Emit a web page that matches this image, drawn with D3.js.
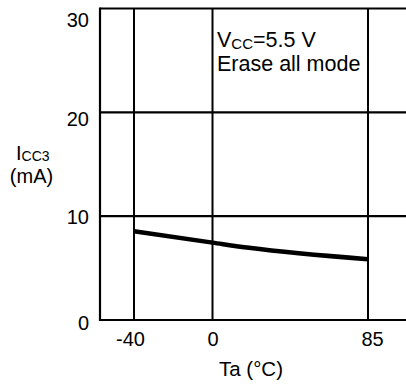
<!DOCTYPE html>
<html>
<head>
<meta charset="utf-8">
<script src="https://cdn.jsdelivr.net/npm/d3@7/dist/d3.min.js"></script>
<style>
  html, body { margin: 0; padding: 0; background: #fff; }
  svg { display: block; }
  text { font-family: "Liberation Sans", Arial, Helvetica, sans-serif; fill: #000; }
</style>
</head>
<body>
<svg id="chart" width="406" height="385"></svg>
<script>
// Supply current in erase-all mode vs ambient temperature
const tempTicks = [-40, 0, 85];
const currentTicks = [0, 10, 20, 30];
const temps = [-40, 0, 20, 85];
const icc3 = [8.55, 7.45, 6.95, 5.85];

const plotLeft = 100, plotTop = 8.5, plotBottom = 320, plotRight = 406;

const svg = d3.select("#chart");

// Temperature axis is not evenly spaced on the original plot, so use a piecewise scale
const x = d3.scaleLinear().domain([-40, 0, 85]).range([134, 212.5, 368]);
const y = d3.scaleLinear().domain([0, 30]).range([plotBottom, plotTop]);

const ink = "#000";
const plain = d => String(d);

// horizontal grid (including top and bottom frame lines)
svg.append("g")
  .selectAll("line")
  .data(currentTicks)
  .join("line")
  .attr("x1", plotLeft).attr("x2", plotRight)
  .attr("y1", d => y(d)).attr("y2", d => y(d))
  .attr("stroke", ink).attr("stroke-width", 2.2);

// left frame
svg.append("line")
  .attr("x1", plotLeft).attr("x2", plotLeft)
  .attr("y1", plotTop - 1.1).attr("y2", plotBottom + 1.1)
  .attr("stroke", ink).attr("stroke-width", 2.2);

// vertical grid at the labelled temperatures
svg.append("g")
  .selectAll("line")
  .data(tempTicks)
  .join("line")
  .attr("x1", d => x(d)).attr("x2", d => x(d))
  .attr("y1", plotTop).attr("y2", plotBottom)
  .attr("stroke", ink).attr("stroke-width", 2);

// y tick labels
const yLabelNudge = {0: 2, 10: 0, 20: 6, 30: 11};
const yAxis = svg.append("g")
  .attr("transform", `translate(${plotLeft},0)`)
  .call(d3.axisLeft(y).tickValues(currentTicks).tickSize(0).tickPadding(11).tickFormat(plain));
yAxis.select(".domain").remove();
yAxis.selectAll("text")
  .attr("font-size", 20)
  .attr("font-family", null)
  .attr("dy", d => (yLabelNudge[d] + 7) + "px");

// x tick labels
const xLabelNudge = {"-40": -4, "0": 0, "85": 4};
const xAxis = svg.append("g")
  .attr("transform", `translate(0,${plotBottom})`)
  .call(d3.axisBottom(x).tickValues(tempTicks).tickSize(0).tickPadding(11).tickFormat(plain));
xAxis.select(".domain").remove();
xAxis.selectAll("text")
  .attr("font-size", 20)
  .attr("font-family", null)
  .attr("dx", d => xLabelNudge[d] + "px")
  .attr("dy", "0.75em");
xAxis.selectAll("line").remove();

// axis titles
svg.append("text")
  .attr("x", 251).attr("y", 376)
  .attr("text-anchor", "middle")
  .attr("font-size", 20.5)
  .text("Ta (°C)");

const yt = svg.append("text")
  .attr("x", 16).attr("y", 160)
  .attr("font-size", 20);
yt.append("tspan").text("I");
yt.append("tspan").attr("font-size", 14).attr("dy", 1).text("CC3");

svg.append("text")
  .attr("x", 31.5).attr("y", 183)
  .attr("text-anchor", "middle")
  .attr("font-size", 20)
  .text("(mA)");

// condition note
const note = svg.append("text")
  .attr("x", 217).attr("y", 47)
  .attr("font-size", 21.5);
note.append("tspan").text("V");
note.append("tspan").attr("font-size", 15).attr("dy", 2).text("CC");
note.append("tspan").attr("dy", -2).text("=5.5 V");

svg.append("text")
  .attr("x", 217).attr("y", 71)
  .attr("font-size", 21.5)
  .text("Erase all mode");

// current curve
const pts = temps.map((t, i) => [t, icc3[i]]);
svg.append("path")
  .datum(pts)
  .attr("fill", "none")
  .attr("stroke", ink)
  .attr("stroke-width", 4.5)
  .attr("d", d3.line().x(d => x(d[0])).y(d => y(d[1])).curve(d3.curveMonotoneX));
</script>
</body>
</html>
